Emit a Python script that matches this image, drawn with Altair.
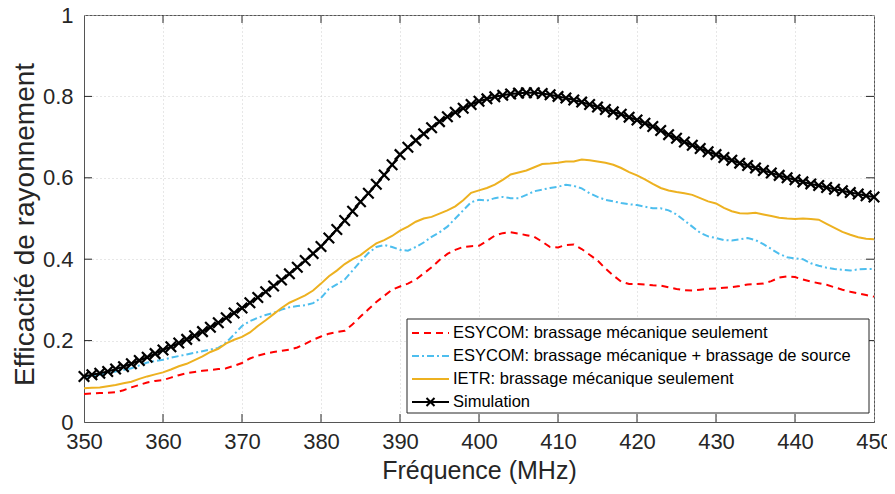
import altair as alt
import pandas as pd

# ---------------- data ----------------
freq = list(range(350, 451))

esycom_meca = [
    0.069, 0.070, 0.071, 0.072, 0.073, 0.078, 0.085, 0.091, 0.097, 0.101,
    0.103, 0.109, 0.115, 0.120, 0.123, 0.126, 0.128, 0.130, 0.132, 0.138,
    0.145, 0.156, 0.163, 0.168, 0.172, 0.175, 0.178, 0.183, 0.192, 0.202,
    0.210, 0.217, 0.221, 0.224, 0.240, 0.259, 0.277, 0.295, 0.310, 0.325,
    0.333, 0.340, 0.350, 0.365, 0.380, 0.398, 0.413, 0.423, 0.430, 0.432,
    0.433, 0.445, 0.458, 0.464, 0.466, 0.463, 0.459, 0.455, 0.443, 0.430,
    0.429, 0.435, 0.436, 0.425, 0.411, 0.397, 0.377, 0.360, 0.345, 0.339,
    0.339, 0.338, 0.336, 0.335, 0.331, 0.327, 0.324, 0.323, 0.325, 0.327,
    0.328, 0.330, 0.331, 0.334, 0.338, 0.339, 0.340, 0.346, 0.355, 0.358,
    0.356, 0.350, 0.345, 0.341, 0.337, 0.331, 0.325, 0.320, 0.316, 0.312,
    0.308,
]

esycom_meca_source = [
    0.111, 0.113, 0.116, 0.120, 0.124, 0.128, 0.132, 0.139, 0.146, 0.150,
    0.153, 0.158, 0.162, 0.166, 0.170, 0.174, 0.178, 0.182, 0.195, 0.215,
    0.236, 0.248, 0.256, 0.263, 0.268, 0.276, 0.282, 0.285, 0.287, 0.292,
    0.305, 0.327, 0.338, 0.350, 0.372, 0.395, 0.415, 0.430, 0.435, 0.430,
    0.423, 0.421, 0.430, 0.441, 0.455, 0.466, 0.480, 0.500, 0.520, 0.540,
    0.546, 0.544, 0.550, 0.553, 0.550, 0.550, 0.558, 0.567, 0.571, 0.575,
    0.578, 0.583, 0.580, 0.574, 0.562, 0.553, 0.546, 0.542, 0.538, 0.535,
    0.533, 0.529, 0.525, 0.525, 0.520, 0.510, 0.495, 0.480, 0.465, 0.456,
    0.452, 0.447, 0.446, 0.449, 0.452, 0.447, 0.437, 0.425, 0.413, 0.405,
    0.402, 0.400, 0.390, 0.384, 0.379, 0.376, 0.374, 0.372, 0.375, 0.376,
    0.376,
]

ietr_meca = [
    0.083, 0.084, 0.085, 0.088, 0.091, 0.095, 0.099, 0.106, 0.112, 0.117,
    0.122, 0.129, 0.137, 0.143, 0.152, 0.161, 0.172, 0.180, 0.193, 0.202,
    0.209, 0.220, 0.236, 0.250, 0.265, 0.280, 0.293, 0.302, 0.311, 0.323,
    0.340, 0.358, 0.372, 0.388, 0.400, 0.410, 0.425, 0.439, 0.447, 0.457,
    0.470, 0.480, 0.492, 0.500, 0.504, 0.512, 0.520, 0.530, 0.545, 0.563,
    0.569, 0.575, 0.583, 0.595, 0.608, 0.613, 0.618, 0.626, 0.634, 0.635,
    0.637, 0.640, 0.640, 0.645, 0.643, 0.640, 0.637, 0.632, 0.624, 0.614,
    0.606, 0.596, 0.585, 0.575, 0.569, 0.565, 0.562, 0.558, 0.550, 0.542,
    0.537, 0.526, 0.518, 0.513, 0.512, 0.514, 0.510, 0.506, 0.502, 0.500,
    0.499, 0.500, 0.499, 0.497, 0.487, 0.477, 0.467, 0.460, 0.454, 0.450,
    0.449,
]

simulation = [
    0.112, 0.116, 0.120, 0.124, 0.130, 0.136, 0.143, 0.151, 0.159, 0.168,
    0.177, 0.185, 0.194, 0.203, 0.212, 0.222, 0.233, 0.244, 0.256, 0.268,
    0.280, 0.293, 0.306, 0.320, 0.334, 0.349, 0.364, 0.380, 0.397, 0.414,
    0.431, 0.452, 0.473, 0.495, 0.518, 0.541, 0.562, 0.584, 0.607, 0.632,
    0.657, 0.675, 0.692, 0.708, 0.723, 0.738, 0.750, 0.761, 0.771, 0.780,
    0.788, 0.794, 0.799, 0.803, 0.806, 0.808, 0.809, 0.809, 0.807, 0.804,
    0.800, 0.796, 0.791, 0.786, 0.780, 0.774, 0.768, 0.762, 0.756, 0.749,
    0.742, 0.734, 0.726, 0.716, 0.706, 0.697, 0.688, 0.680, 0.672, 0.664,
    0.657, 0.650, 0.643, 0.636, 0.630, 0.624, 0.618, 0.612, 0.606, 0.600,
    0.595, 0.590, 0.585, 0.581, 0.576, 0.572, 0.568, 0.564, 0.560, 0.556,
    0.553,
]

series_labels = [
    "ESYCOM: brassage mécanique seulement",
    "ESYCOM: brassage mécanique + brassage de source",
    "IETR: brassage mécanique seulement",
    "Simulation",
]

x_ticks = list(range(350, 451, 10))
y_ticks = [0, 0.2, 0.4, 0.6, 0.8, 1.0]

x_title = "Fréquence (MHz)"
y_title = "Efficacité de rayonnement"

# ---------------- styles ----------------
W, H = 790, 407
FONT = "Liberation Sans"
TXT = "#262626"
RED, BLUE, ORANGE, BLACK = "#FF0000", "#4DBEEE", "#EDB120", "#000000"
XMARK = "M-1,-1L1,1M-1,1L1,-1"
TICK = 8
GRID = "#cfcfcf"

x_enc = alt.X(
    "f:Q",
    scale=alt.Scale(domain=[350, 450], nice=False, zero=False),
    axis=alt.Axis(
        values=x_ticks, title=x_title, grid=True, ticks=False,
        gridDash=[1, 3], gridColor=GRID, gridWidth=1, labelFlush=False,
        domainColor="#555555", labelFont=FONT, labelFontSize=22,
        labelColor=TXT, labelPadding=9, titleFont=FONT, titleFontSize=25,
        titleFontWeight="normal", titleColor=TXT, titlePadding=6,
    ),
)
y_enc = alt.Y(
    "v:Q",
    scale=alt.Scale(domain=[0, 1], nice=False),
    axis=alt.Axis(
        values=y_ticks, format=".1~f", title=y_title, grid=True, ticks=False,
        gridDash=[1, 3], gridColor=GRID, gridWidth=1, labelFlush=False,
        domainColor="#555555", labelFont=FONT, labelFontSize=22,
        labelColor=TXT, labelPadding=11, titleFont=FONT, titleFontSize=28,
        titleFontWeight="normal", titleColor=TXT, titlePadding=3, titleY=209,
    ),
)


def series_df(vals):
    return pd.DataFrame({"f": freq, "v": vals})


red_line = alt.Chart(series_df(esycom_meca)).mark_line(
    color=RED, strokeWidth=2, strokeDash=[7, 5]
).encode(x=x_enc, y=y_enc)

blue_line = alt.Chart(series_df(esycom_meca_source)).mark_line(
    color=BLUE, strokeWidth=2, strokeDash=[7, 3, 2, 3]
).encode(x=x_enc, y=y_enc)

orange_line = alt.Chart(series_df(ietr_meca)).mark_line(
    color=ORANGE, strokeWidth=2
).encode(x=x_enc, y=y_enc)

sim_line = alt.Chart(series_df(simulation)).mark_line(
    color=BLACK, strokeWidth=2
).encode(x=x_enc, y=y_enc)

sim_pts = alt.Chart(series_df(simulation)).mark_point(
    shape=XMARK, size=110, filled=False, stroke=BLACK, strokeWidth=2.2, opacity=1
).encode(x=x_enc, y=y_enc)

# inward ticks on all four sides (box style)
xt = pd.DataFrame({"f": x_ticks[1:-1]})
yt = pd.DataFrame({"v": y_ticks[1:-1]})
tick_bottom = alt.Chart(xt).mark_rule(color=TXT, strokeWidth=1).encode(
    x=x_enc, y=alt.value(H), y2=alt.value(H - TICK))
tick_top = alt.Chart(xt).mark_rule(color=TXT, strokeWidth=1).encode(
    x=x_enc, y=alt.value(0), y2=alt.value(TICK))
tick_left = alt.Chart(yt).mark_rule(color=TXT, strokeWidth=1).encode(
    y=y_enc, x=alt.value(0), x2=alt.value(TICK))
tick_right = alt.Chart(yt).mark_rule(color=TXT, strokeWidth=1).encode(
    y=y_enc, x=alt.value(W - TICK), x2=alt.value(W))

# ---------------- manual legend ----------------
one = pd.DataFrame({"a": [0]})
LX0, LX1, LY0, LY1 = 323, 785, 304, 398
row_y = [318, 341, 364, 387]
line_x0, line_x1, text_x = 328, 365, 369

legend_layers = [
    alt.Chart(one).mark_rect(fill="white", stroke=TXT, strokeWidth=1).encode(
        x=alt.value(LX0), x2=alt.value(LX1), y=alt.value(LY0), y2=alt.value(LY1))
]
styles = [
    dict(color=RED, strokeDash=[7, 5]),
    dict(color=BLUE, strokeDash=[7, 3, 2, 3]),
    dict(color=ORANGE),
    dict(color=BLACK),
]
for lab, yy, st in zip(series_labels, row_y, styles):
    legend_layers.append(
        alt.Chart(one).mark_rule(strokeWidth=2, **st).encode(
            x=alt.value(line_x0), x2=alt.value(line_x1),
            y=alt.value(yy), y2=alt.value(yy)))
    legend_layers.append(
        alt.Chart(one).mark_text(
            align="left", baseline="middle", font=FONT, fontSize=16.5, color="#000000"
        ).encode(x=alt.value(text_x), y=alt.value(yy), text=alt.value(lab)))
legend_layers.append(
    alt.Chart(one).mark_point(
        shape=XMARK, size=64, filled=False, stroke=BLACK, strokeWidth=2, opacity=1
    ).encode(x=alt.value((line_x0 + line_x1) / 2), y=alt.value(row_y[3])))

chart = alt.layer(
    red_line, blue_line, orange_line, sim_line, sim_pts,
    tick_bottom, tick_top, tick_left, tick_right,
    *legend_layers,
).properties(
    width=W, height=H,
    autosize=alt.AutoSizeParams(type="none"),
    padding={"left": 76, "top": 7, "right": 13, "bottom": 64},
    background="white",
).configure_view(stroke="#555555", strokeWidth=1)

chart.save("out.html", embed_options={"renderer": "svg", "actions": False})
